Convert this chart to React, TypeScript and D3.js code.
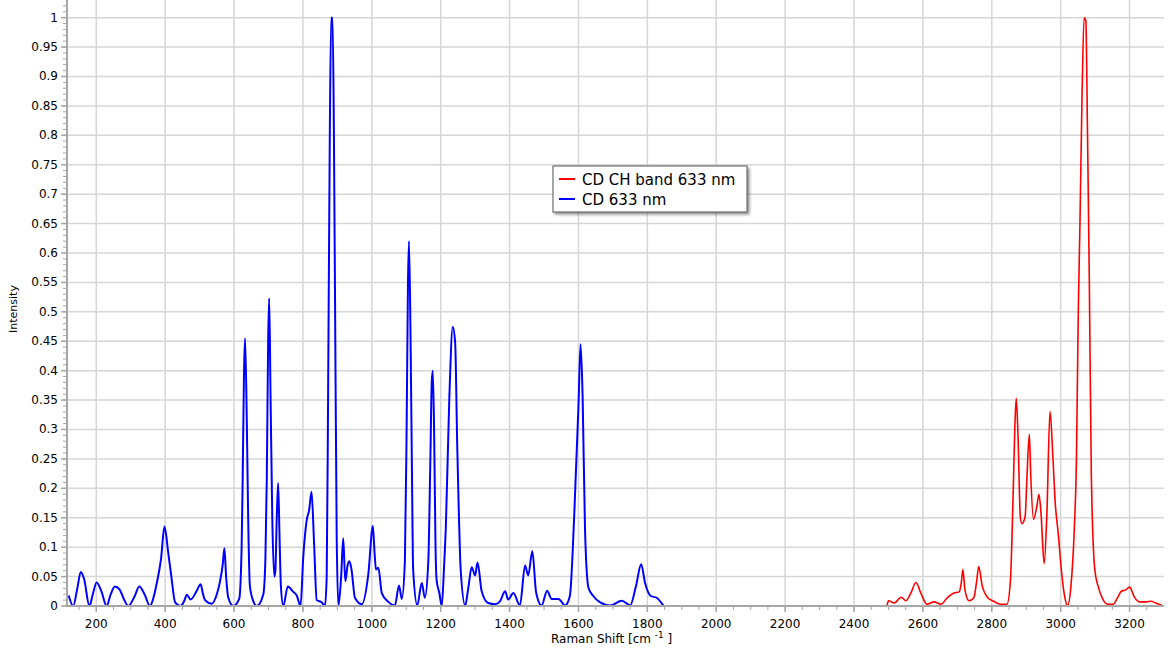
import React from "react";
import * as d3 from "d3";

// CD 633 nm spectrum (fingerprint region)
const blueShift = [
  120, 133, 145, 155, 165, 180, 190, 201, 215, 230, 242, 254, 268, 280, 293, 310, 325, 340, 356, 365,
  375, 388, 398, 409, 418, 429, 445, 455, 463, 474, 490, 503, 510, 516, 535, 550, 559, 567, 572, 577,
  583, 598, 615, 622, 625, 629, 632, 637, 641, 646, 656, 666, 685, 691, 695, 699, 702, 706, 711, 717,
  720, 724, 728, 732, 736, 743, 756, 772, 782, 793, 801, 811, 818, 825, 832, 840, 855, 864, 869, 873,
  878, 882, 886, 890, 894, 898, 903, 911, 917, 923, 930, 935, 941, 951, 971, 990, 1003, 1008, 1012, 1019,
  1029, 1048, 1067, 1079, 1087, 1096, 1101, 1105, 1108, 1113, 1117, 1120, 1132, 1145, 1154, 1164, 1170, 1174, 1177, 1181,
  1185, 1188, 1196, 1203, 1210, 1215, 1225, 1235, 1242, 1248, 1253, 1258, 1271, 1280, 1290, 1300, 1307, 1319, 1338, 1358,
  1372, 1387, 1396, 1411, 1430, 1445, 1454, 1466, 1477, 1493, 1509, 1522, 1542, 1561, 1575, 1588, 1600, 1606, 1612, 1619,
  1629, 1643, 1663, 1692, 1726, 1750, 1767, 1782, 1793, 1810, 1827, 1846,
];
const blueIntensity = [
  0.018, 0.0, 0.03, 0.058, 0.045, 0.0, 0.02, 0.04, 0.025, 0.0, 0.02, 0.033, 0.028, 0.012, 0.0, 0.015, 0.033, 0.02, 0.0, 0.012,
  0.037, 0.08, 0.135, 0.09, 0.05, 0.006, 0.0, 0.008, 0.019, 0.011, 0.024, 0.037, 0.02, 0.01, 0.004, 0.02, 0.041, 0.07, 0.098, 0.05,
  0.015, 0.0, 0.012, 0.1, 0.214, 0.4, 0.455, 0.316, 0.15, 0.034, 0.008, 0.0, 0.02, 0.08, 0.214, 0.45, 0.523, 0.356, 0.15, 0.05,
  0.06, 0.15, 0.209, 0.12, 0.034, 0.0, 0.033, 0.024, 0.018, 0.0, 0.084, 0.146, 0.163, 0.194, 0.112, 0.01, 0.006, 0.0, 0.05, 0.35,
  0.8, 1.0, 1.0, 0.8, 0.45, 0.12, 0.0, 0.05, 0.115, 0.042, 0.07, 0.076, 0.062, 0.014, 0.003, 0.055, 0.136, 0.09, 0.062, 0.065,
  0.022, 0.007, 0.001, 0.035, 0.012, 0.076, 0.3, 0.55, 0.62, 0.427, 0.2, 0.062, 0.001, 0.039, 0.014, 0.076, 0.25, 0.38, 0.4, 0.292,
  0.1, 0.045, 0.022, 0.0, 0.07, 0.136, 0.353, 0.474, 0.447, 0.272, 0.15, 0.062, 0.001, 0.03, 0.066, 0.052, 0.074, 0.025, 0.005, 0.003,
  0.008, 0.025, 0.011, 0.022, 0.001, 0.069, 0.052, 0.093, 0.023, 0.001, 0.026, 0.012, 0.012, 0.001, 0.017, 0.159, 0.34, 0.445, 0.357, 0.13,
  0.031, 0.017, 0.006, 0.001, 0.009, 0.001, 0.034, 0.071, 0.04, 0.017, 0.014, 0.001,
];

// CD CH band 633 nm spectrum
const redShift = [
  2496, 2500, 2517, 2537, 2551, 2565, 2580, 2594, 2612, 2633, 2652, 2671, 2690, 2705, 2712, 2716, 2722, 2734, 2748, 2756,
  2762, 2772, 2787, 2806, 2825, 2844, 2854, 2862, 2867, 2871, 2876, 2883, 2888, 2897, 2902, 2909, 2913, 2921, 2931, 2937,
  2943, 2952, 2960, 2969, 2977, 2984, 2993, 3003, 3012, 3020, 3030, 3039, 3046, 3051, 3056, 3062, 3068, 3073, 3078, 3083,
  3089, 3099, 3108, 3123, 3137, 3152, 3166, 3176, 3188, 3200, 3214, 3229, 3248, 3262, 3276, 3294,
];
const redIntensity = [
  0.001, 0.009, 0.005, 0.015, 0.009, 0.022, 0.04, 0.022, 0.003, 0.007, 0.003, 0.014, 0.022, 0.024, 0.042, 0.062, 0.028, 0.009, 0.014, 0.042,
  0.067, 0.035, 0.015, 0.008, 0.003, 0.003, 0.042, 0.19, 0.305, 0.353, 0.292, 0.15, 0.14, 0.153, 0.218, 0.292, 0.224, 0.147, 0.17, 0.19,
  0.157, 0.072, 0.157, 0.331, 0.258, 0.177, 0.123, 0.055, 0.015, 0.001, 0.035, 0.123, 0.258, 0.495, 0.65, 0.866, 1.0, 0.995, 0.8, 0.562,
  0.224, 0.062, 0.035, 0.011, 0.003, 0.003, 0.015, 0.025, 0.027, 0.032, 0.015, 0.007, 0.007, 0.008, 0.005, 0.001,
];

const xTicks = d3.range(200, 3201, 200);
const xMinorTicks = d3.range(150, 3300, 50);
const yTicks = d3.range(0, 20.5, 1).map((i) => +(i * 0.05).toFixed(2));
const yMinorTicks = d3.range(0, 103, 1).map((i) => i / 100);

const legendItems = [
  { label: "CD CH band 633 nm", color: "#ff0000" },
  { label: "CD 633 nm", color: "#0000ff" },
];

const W = 1168;
const H = 653;
const left = 67;
const right = 1164;
const top = 0;
const bottom = 606;
const font = "'DejaVu Sans', Verdana, sans-serif";

export default function App() {
  const x = d3.scaleLinear().domain([115, 3300]).range([left, right]);
  const y = d3.scaleLinear().domain([0, 1.03]).range([bottom, top]);

  const line = d3
    .line<[number, number]>()
    .x((d) => x(d[0]))
    .y((d) => y(d[1]))
    .curve(d3.curveMonotoneX);

  const blue = blueShift.map((s, i) => [s, blueIntensity[i]] as [number, number]);
  const red = redShift.map((s, i) => [s, redIntensity[i]] as [number, number]);

  const lg = { x: 553, y: 166, w: 194, h: 46 };

  return (
    <svg
      width={W}
      height={H}
      style={{ position: "absolute", left: 0, top: 0, background: "#fff" }}
      fontFamily={font}
    >
      <defs>
        <clipPath id="plot">
          <rect x={left} y={top} width={right - left} height={bottom - top} />
        </clipPath>
        <filter id="shadow" x="-10%" y="-20%" width="130%" height="160%">
          <feDropShadow dx="2" dy="2" stdDeviation="1.5" floodColor="#000" floodOpacity="0.45" />
        </filter>
      </defs>

      {/* grid */}
      <g stroke="#d6d6d6" strokeWidth={1.5}>
        {xTicks.map((t) => (
          <line key={"gx" + t} x1={x(t)} x2={x(t)} y1={top} y2={bottom} />
        ))}
        {yTicks.map((t) => (
          <line key={"gy" + t} x1={left} x2={right} y1={y(t)} y2={y(t)} />
        ))}
      </g>

      {/* spectra */}
      <g clipPath="url(#plot)" fill="none" strokeLinejoin="round">
        <path d={line(blue) || ""} stroke="#0000ff" strokeWidth={2} />
        <path d={line(red) || ""} stroke="#ff0000" strokeWidth={1.6} />
      </g>

      {/* y axis */}
      <g stroke="#a6a6a6">
        <line x1={left} x2={left} y1={top} y2={bottom + 1} strokeWidth={2} />
        {yMinorTicks.map((t) => (
          <line key={"ym" + t} x1={left - 4} x2={left} y1={y(t)} y2={y(t)} strokeWidth={1} />
        ))}
        {yTicks.map((t) => (
          <line key={"yt" + t} x1={left - 6} x2={left} y1={y(t)} y2={y(t)} strokeWidth={1.5} />
        ))}
      </g>
      <g fontSize={12} fill="#000" textAnchor="end">
        {yTicks.map((t) => (
          <text key={"yl" + t} x={left - 9} y={y(t) + 4}>
            {String(t)}
          </text>
        ))}
      </g>

      {/* x axis */}
      <g stroke="#a6a6a6">
        <line x1={left - 1} x2={right} y1={bottom} y2={bottom} strokeWidth={2} />
        {xMinorTicks.map((t) => (
          <line key={"xm" + t} x1={x(t)} x2={x(t)} y1={bottom} y2={bottom + 4} strokeWidth={1} />
        ))}
        {xTicks.map((t) => (
          <line key={"xt" + t} x1={x(t)} x2={x(t)} y1={bottom} y2={bottom + 6} strokeWidth={1.5} />
        ))}
      </g>
      <g fontSize={12} fill="#000" textAnchor="middle">
        {xTicks.map((t) => (
          <text key={"xl" + t} x={x(t)} y={628}>
            {String(t)}
          </text>
        ))}
      </g>

      {/* axis titles */}
      <text x={551} y={643} fontSize={12} fill="#000">
        Raman Shift [cm{" "}
        <tspan fontSize={9} dy={-5}>
          -1
        </tspan>
        <tspan dy={5}> ]</tspan>
      </text>
      <text transform="translate(17,309) rotate(-90)" fontSize={11} textAnchor="middle" fill="#000">
        Intensity
      </text>

      {/* legend */}
      <g>
        <rect
          x={lg.x}
          y={lg.y}
          width={lg.w}
          height={lg.h}
          fill="#fff"
          stroke="#555"
          strokeWidth={1}
          filter="url(#shadow)"
        />
        {legendItems.map((item, i) => (
          <g key={item.label}>
            <line
              x1={lg.x + 6}
              x2={lg.x + 22}
              y1={lg.y + 13 + i * 20}
              y2={lg.y + 13 + i * 20}
              stroke={item.color}
              strokeWidth={2}
            />
            <text x={lg.x + 29} y={lg.y + 18.5 + i * 20} fontSize={15} fill="#000">
              {item.label}
            </text>
          </g>
        ))}
      </g>
    </svg>
  );
}
